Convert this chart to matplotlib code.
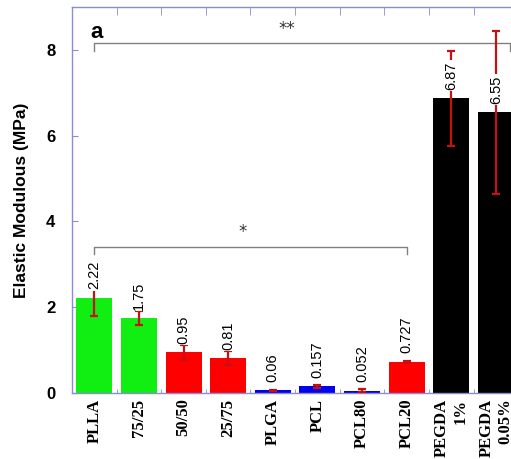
import matplotlib
matplotlib.use("Agg")
import matplotlib.pyplot as plt
import numpy as np

categories = ["PLLA", "75/25", "50/50", "25/75", "PLGA", "PCL", "PCL80", "PCL20",
              "PEGDA\n1%", "PEGDA\n0.05%"]
modulus = [2.22, 1.75, 0.95, 0.81, 0.06, 0.157, 0.052, 0.727, 6.87, 6.55]
errors = [0.42, 0.16, 0.17, 0.16, 0.02, 0.03, 0.03, 0.03, 1.1, 1.9]
value_labels = ["2.22", "1.75", "0.95", "0.81", "0.06", "0.157", "0.052", "0.727", "6.87", "6.55"]
bar_colors = ["#11ee11", "#11ee11", "#ff0000", "#ff0000", "#0000ee", "#0000ee", "#0000ee",
              "#ff0000", "#000000", "#000000"]

SPINE = "#8c8cd0"
ERR = "#c81010"

fig = plt.figure(figsize=(5.11, 4.59), dpi=100)
ax = fig.add_axes([0.141, 0.1438, 0.873, 0.8409])

x = np.arange(len(categories))
ax.bar(x, modulus, width=0.81, color=bar_colors, zorder=2)
ax.errorbar(x, modulus, yerr=errors, fmt="none", ecolor=ERR, elinewidth=1.6,
            capsize=3, capthick=1.6, zorder=3)

for xi, v, lab in zip(x, modulus, value_labels):
    ax.annotate(lab, (xi, v), xytext=(0, 6), textcoords="offset points",
                rotation=90, ha="center", va="bottom", fontsize=10.5,
                family="Liberation Sans", zorder=4,
                bbox=dict(boxstyle="square,pad=0.08", fc="white", ec="none"))

# significance brackets
def bracket(x0, x1, y, drop, label, lx, ly):
    ax.plot([x0, x0, x1, x1], [y - drop, y, y, y - drop], color="#808080", lw=1.0,
            zorder=1, clip_on=False)
    ax.text(lx, ly, label, ha="center", va="center", fontsize=12, color="#333333")

bracket(0, 9.32, 8.16, 0.18, "**", 4.31, 8.49)
bracket(0, 7, 3.40, 0.16, "*", 3.32, 3.75)

ax.text(0.05, 8.4, "a", fontsize=16, fontweight="bold", family="Liberation Sans",
        ha="center", va="center")

ax.set_xlim(-0.5, 9.5)
ax.set_ylim(0, 9)
ax.set_yticks([0, 2, 4, 6, 8])
ax.set_yticklabels(["0", "2", "4", "6", "8"], fontsize=12, fontweight="bold",
                   family="Liberation Sans")
ax.set_xticks(x)
ax.set_xticklabels(categories, rotation=90, fontsize=12, fontweight="bold",
                   family="Liberation Serif", va="top", ha="center",
                   multialignment="right")
ax.set_xticks(x[:-1] + 0.5, minor=True)
ax.tick_params(axis="x", which="major", length=0, pad=4)
ax.tick_params(axis="x", which="minor", direction="in", length=3, color=SPINE,
               top=True, bottom=True)
ax.tick_params(axis="y", direction="in", length=4, color=SPINE, pad=12)
for t in ax.xaxis.get_minor_ticks():
    t.tick2line.set_markersize(6)

ax.set_ylabel("Elastic Modulous (MPa)", fontsize=12.5, fontweight="bold",
              family="Liberation Sans", labelpad=12)
for s in ax.spines.values():
    s.set_color(SPINE)
    s.set_linewidth(1.0)

fig.savefig("out.png", dpi=100)
